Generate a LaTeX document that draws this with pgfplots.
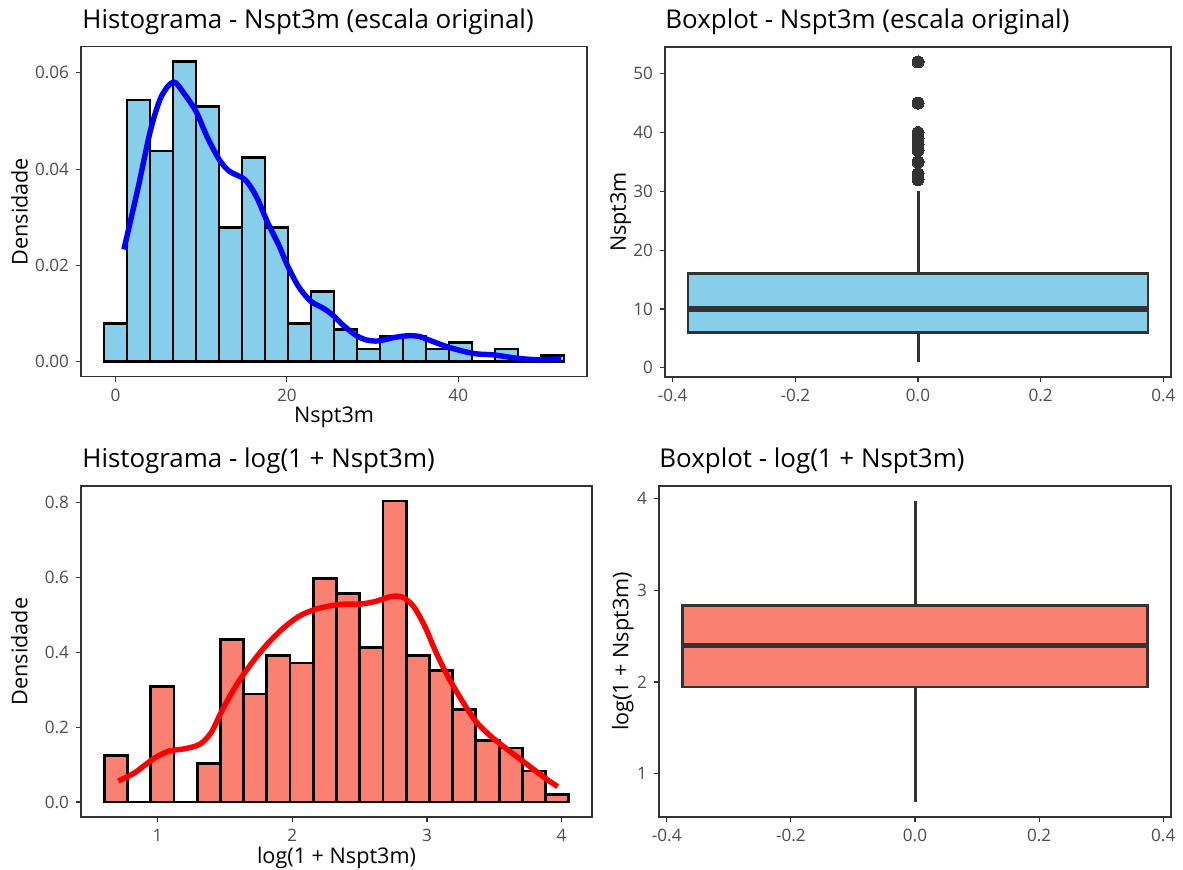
\documentclass[border=0pt]{standalone}
\usepackage{pgfplots}
\pgfplotsset{compat=1.18}
\usepackage{fontspec}
\setmainfont{Open Sans}
\definecolor{skyblue}{HTML}{87CEEB}
\definecolor{salmon}{HTML}{FA8072}
\definecolor{gray20}{HTML}{333333}
\definecolor{gray30}{HTML}{4D4D4D}

\pgfplotsset{
  panel/.style={
    scale only axis,
    axis line style={gray20, line width=0.6pt},
    every tick/.style={gray20, line width=0.6pt},
    tick align=outside,
    major tick length=2.5pt,
    tick pos=left,
    minor tick num=0,
    scaled ticks=false,
    /pgf/number format/assume math mode=true,
    ticklabel style={font=\fontsize{8.55}{10}\selectfont, text=gray30},
    xlabel style={font=\fontsize{10.8}{12}\selectfont, anchor=base},
    ylabel style={font=\fontsize{10.8}{12}\selectfont, anchor=base},
    every axis title shift=0pt,
    title style={font=\fontsize{12.95}{15}\selectfont, anchor=base west, inner sep=0pt, yshift=0pt},
    clip=false,
  },
  histbar/.style={ybar interval, draw=black, line width=1.4pt},
}

\pgfplotstableread{
x y
-1.3421 0.007955
1.3421 0.054358
4.0263 0.043751
6.7105 0.062313
9.3947 0.053032
12.0789 0.027842
14.7632 0.042426
17.4474 0.027842
20.1316 0.007955
22.8158 0.014584
25.5000 0.006629
28.1842 0.002652
30.8684 0.005303
33.5526 0.005303
36.2368 0.002652
38.9211 0.003977
41.6053 0
44.2895 0.002652
46.9737 0
49.6579 0.001326
52.3421 0
}\histA

\pgfplotstableread{
x y
0.6037 0.1238
0.7762 0
0.9486 0.3095
1.1211 0
1.2936 0.1032
1.4661 0.4333
1.6386 0.2888
1.8111 0.3920
1.9835 0.3714
2.1560 0.5983
2.3285 0.5571
2.5010 0.4126
2.6735 0.8046
2.8460 0.3920
3.0184 0.3507
3.1909 0.2476
3.3634 0.1651
3.5359 0.1444
3.7084 0.0825
3.8809 0.0206
4.0533 0
}\histB

\begin{document}
\begin{tikzpicture}
\useasboundingbox (0,0) rectangle (591.5pt,435pt);

% Panel 1
\begin{axis}[panel, at={(40.5pt,246.65pt)}, anchor=south west,
  width=253pt, height=165pt,
  xmin=-4.026, xmax=55.026, ymin=-0.003116, ymax=0.065429,
  xtick={0,20,40}, ytick={0,0.02,0.04,0.06},
  yticklabel style={/pgf/number format/.cd, fixed, fixed zerofill, precision=2},
  title={Histograma - Nspt3m (escala original)},
  title style={at={(axis description cs:0.002,1.0558)}},
  xlabel={Nspt3m}, xlabel style={at={(axis description cs:0.5,-0.1394)}},
  ylabel={Densidade}, ylabel style={at={(axis description cs:-0.1057,0.5)}},
  ]
  \addplot[histbar, fill=skyblue] table[x=x, y=y] {\histA};
  \addplot[blue, line width=2.7pt, smooth] coordinates {
    (0.98,0.0233) (2.67,0.0364) (4.09,0.0481) (5.33,0.0550) (6.76,0.0581)
    (8.0,0.0557) (9.42,0.0519) (10.67,0.0468) (12.13,0.0419) (13.33,0.0395)
    (15.11,0.0378) (16.44,0.0343) (17.78,0.0288) (19.11,0.0240) (20.09,0.0199)
    (21.33,0.0157) (22.76,0.0126) (24.44,0.0109) (25.47,0.0095) (26.67,0.0074)
    (28.13,0.0054) (29.33,0.0045) (30.67,0.0043) (32.44,0.0050) (34.22,0.0054)
    (35.56,0.0052) (36.44,0.0046) (38.89,0.0030) (41.78,0.0017) (44.22,0.0014)
    (46.89,0.0007) (49.56,0.0004) (52.0,0.0006)
  };
\end{axis}

% Panel 2
\begin{axis}[panel, at={(332.5pt,246.5pt)}, anchor=south west,
  width=253pt, height=165pt,
  xmin=-0.4125, xmax=0.4125, ymin=-1.55, ymax=54.55,
  xtick={-0.4,-0.2,0,0.2,0.4}, ytick={0,10,20,30,40,50},
  xticklabel style={/pgf/number format/.cd, fixed, fixed zerofill, precision=1},
  title={Boxplot - Nspt3m (escala original)},
  title style={at={(axis description cs:0,1.0558)}},
  ylabel={Nspt3m}, ylabel style={at={(axis description cs:-0.0771,0.5)}},
  ]
  \addplot[gray20, line width=1.5pt] coordinates {(0,16) (0,30)};
  \addplot[gray20, line width=1.5pt] coordinates {(0,1) (0,6)};
  \addplot[fill=skyblue, draw=gray20, line width=1.4pt, line join=miter]
    coordinates {(-0.375,6) (0.375,6) (0.375,16) (-0.375,16)} -- cycle;
  \addplot[gray20, line width=2.9pt] coordinates {(-0.375,10) (0.375,10)};
  \addplot[only marks, mark=*, mark size=3pt, gray20,
    mark options={fill=gray20, draw=gray20, line width=0pt}] coordinates {
    (0,32) (0,33) (0,35) (0,37) (0,38) (0,39) (0,40) (0,45) (0,52)};
\end{axis}

% Panel 3
\begin{axis}[panel, at={(40.5pt,26.5pt)}, anchor=south west,
  width=255.5pt, height=165.5pt,
  xmin=0.4312, xmax=4.2258, ymin=-0.04023, ymax=0.8448,
  xtick={1,2,3,4}, ytick={0,0.2,0.4,0.6,0.8},
  yticklabel style={/pgf/number format/.cd, fixed, fixed zerofill, precision=1},
  title={Histograma - log(1 + Nspt3m)},
  title style={at={(axis description cs:0.002,1.0544)}},
  xlabel={log(1 + Nspt3m)}, xlabel style={at={(axis description cs:0.5,-0.139)}},
  ylabel={Densidade}, ylabel style={at={(axis description cs:-0.1047,0.5)}},
  ]
  \addplot[histbar, fill=salmon] table[x=x, y=y] {\histB};
  \addplot[red, line width=2.7pt, smooth] coordinates {
    (0.708,0.056) (0.830,0.078) (0.972,0.116) (1.085,0.136) (1.198,0.142)
    (1.312,0.154) (1.397,0.185) (1.482,0.247) (1.595,0.318) (1.709,0.376)
    (1.822,0.425) (1.935,0.465) (2.048,0.496) (2.162,0.514) (2.276,0.524)
    (2.389,0.529) (2.503,0.529) (2.616,0.536) (2.730,0.549) (2.815,0.548)
    (2.900,0.523) (2.985,0.469) (3.070,0.398) (3.155,0.336) (3.240,0.283)
    (3.353,0.220) (3.467,0.178) (3.580,0.145) (3.694,0.114) (3.807,0.083)
    (3.892,0.060) (3.971,0.041)
  };
\end{axis}

% Panel 4
\begin{axis}[panel, at={(329.5pt,26.5pt)}, anchor=south west,
  width=256pt, height=165.5pt,
  xmin=-0.4125, xmax=0.4125, ymin=0.5293, ymax=4.1342,
  xtick={-0.4,-0.2,0,0.2,0.4}, ytick={1,2,3,4},
  xticklabel style={/pgf/number format/.cd, fixed, fixed zerofill, precision=1},
  title={Boxplot - log(1 + Nspt3m)},
  title style={at={(axis description cs:0,1.0544)}},
  ylabel={log(1 + Nspt3m)}, ylabel style={at={(axis description cs:-0.0596,0.5)}},
  ]
  \addplot[gray20, line width=1.5pt] coordinates {(0,2.8332) (0,3.9703)};
  \addplot[gray20, line width=1.5pt] coordinates {(0,0.6931) (0,1.9459)};
  \addplot[fill=salmon, draw=gray20, line width=1.4pt, line join=miter]
    coordinates {(-0.375,1.9459) (0.375,1.9459) (0.375,2.8332) (-0.375,2.8332)} -- cycle;
  \addplot[gray20, line width=2.9pt] coordinates {(-0.375,2.3979) (0.375,2.3979)};
\end{axis}
\end{tikzpicture}
\end{document}
